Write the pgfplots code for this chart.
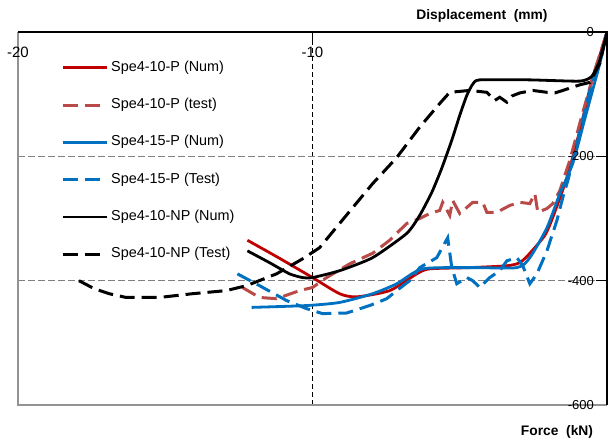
\documentclass[border=0pt]{standalone}
\usepackage{pgfplots}
\pgfplotsset{compat=1.18}
\usepackage{fontspec}
\setmainfont{Liberation Sans}
\definecolor{cRed}{RGB}{192,0,0}
\definecolor{cRedD}{RGB}{184,74,72}
\definecolor{cBlue}{RGB}{0,112,192}
\begin{document}
\begin{tikzpicture}[x=1pt,y=1pt]
\useasboundingbox (0,0) rectangle (608,440);
\begin{axis}[
  at={(18pt,35pt)}, anchor=south west,
  scale only axis, width=589pt, height=373pt,
  xmin=-20, xmax=0, ymin=-600, ymax=0,
  axis line style={draw=none},
  clip mode=individual,
  xtick={-10}, xticklabels={},
  extra x ticks={-20}, extra x tick labels={},
  extra x tick style={grid=none},
  ytick={-400,-200}, yticklabels={},
  extra y ticks={-600,0}, extra y tick labels={},
  extra y tick style={grid=none},
  xtick pos=right, ytick pos=right,
  tick align=inside, major tick length=11pt,
  tick style={black, line width=0.8pt},
  xmajorgrids, ymajorgrids,
  major x grid style={black, line width=0.7pt, dash pattern=on 5pt off 3pt},
  major y grid style={gray, line width=1pt, dash pattern=on 7pt off 3pt},
  legend cell align=left,
  legend image code/.code={\draw[#1] (0pt,0pt) -- (44pt,0pt);},
  legend style={at={(0,1)}, anchor=north west, xshift=43pt, yshift=-26.5pt,
    draw=none, fill=none, inner sep=0pt, row sep=19.3pt, column sep=1pt,
    font=\fontsize{14.4}{16}\selectfont,
    nodes={inner sep=2pt, text height=10.5pt, text depth=3.5pt, anchor=west}},
]
% Spe4-10-P (Num)
\addplot[cRed, line width=2.8pt, smooth, tension=0.4] coordinates {
(-12.21,-335) (-11.12,-364) (-10.0,-395) (-9.08,-421) (-8.5,-426) (-7.38,-416)
(-6.46,-389) (-6.02,-381) (-4.66,-379) (-3.40,-376) (-2.96,-371) (-2.62,-356)
(-2.11,-327) (-1.84,-298) (-1.36,-234) (-0.92,-158) (-0.51,-77) (-0.24,-37) (0,0)};
\addlegendentry{Spe4-10-P (Num)}
% Spe4-10-P (test)
\addplot[cRedD, line width=3pt, dash pattern=on 15pt off 7pt] coordinates {
(-12.38,-411) (-11.80,-427) (-11.22,-429) (-10.44,-416) (-10.0,-411) (-9.52,-395)
(-8.74,-373) (-7.96,-356) (-7.38,-335) (-6.80,-308) (-6.36,-300) (-6.02,-292)
(-5.68,-287) (-5.58,-274) (-5.34,-295) (-5.24,-271) (-5.0,-292) (-4.56,-274)
(-4.22,-274) (-4.08,-290) (-3.74,-290) (-3.30,-279) (-2.96,-274) (-2.62,-276)
(-2.45,-260) (-2.35,-290) (-2.04,-284) (-1.84,-276) (-1.60,-255) (-1.26,-206)
(-0.85,-134) (-0.41,-61) (0,0)};
\addlegendentry{Spe4-10-P (test)}
% Spe4-15-P (Num)
\addplot[cBlue, line width=2.8pt, smooth, tension=0.4] coordinates {
(-12.07,-443) (-10.2,-440) (-9.08,-435) (-7.96,-421) (-7.14,-405) (-6.26,-381)
(-4.56,-379) (-3.06,-379) (-2.62,-363) (-2.04,-315) (-1.60,-260) (-1.16,-211)
(-0.75,-139) (-0.24,-50) (0,0)};
\addlegendentry{Spe4-15-P (Num)}
% Spe4-15-P (Test)
\addplot[cBlue, line width=3pt, dash pattern=on 15pt off 7pt] coordinates {
(-12.55,-389) (-11.80,-408) (-10.88,-432) (-10.20,-445) (-9.66,-453) (-8.84,-452)
(-8.06,-440) (-7.48,-429) (-7.14,-416) (-6.70,-400) (-6.36,-379) (-5.78,-363)
(-5.41,-331) (-5.27,-379) (-5.10,-405) (-4.76,-395) (-4.56,-400) (-4.32,-411)
(-3.98,-395) (-3.64,-384) (-3.40,-368) (-3.06,-363) (-2.86,-376) (-2.62,-405)
(-2.38,-389) (-2.04,-352) (-1.70,-303) (-1.50,-266) (-1.33,-239) (-0.99,-174)
(-0.58,-94) (-0.24,-45) (0,0)};
\addlegendentry{Spe4-15-P (Test)}
% Spe4-10-NP (Num)
\addplot[black, line width=2.8pt, smooth, tension=0.35] coordinates {
(-12.21,-352) (-11.46,-371) (-10.78,-389) (-10.34,-395) (-10.0,-395) (-9.08,-384)
(-7.96,-363) (-6.80,-324) (-6.36,-295) (-5.95,-258) (-5.61,-219) (-5.27,-174)
(-5.0,-134) (-4.76,-102) (-4.56,-84) (-4.32,-77) (-2.62,-77) (-0.92,-79)
(-0.51,-71) (-0.24,-45) (0,0)};
\addlegendentry{Spe4-10-NP (Num)}
% Spe4-10-NP (Test)
\addplot[black, line width=3pt, dash pattern=on 15pt off 7pt] coordinates {
(-17.93,-400) (-17.41,-413) (-16.90,-421) (-16.33,-427) (-15.20,-427) (-14.08,-421)
(-12.93,-416) (-12.24,-408) (-11.22,-389) (-10.34,-365) (-9.76,-347) (-9.08,-308)
(-7.96,-244) (-7.14,-202) (-6.36,-153) (-5.68,-115) (-5.34,-97) (-4.66,-94)
(-4.08,-97) (-3.81,-110) (-3.64,-105) (-3.40,-113) (-3.23,-103) (-2.96,-98)
(-2.52,-94) (-2.04,-97) (-1.77,-98) (-1.50,-94) (-1.19,-89) (-0.92,-85)
(-0.58,-81) (-0.24,-50) (0,0)};
\addlegendentry{Spe4-10-NP (Test)}
\draw[gray!85, line width=1.2pt] (rel axis cs:0,1) -- (rel axis cs:0,0) -- (rel axis cs:1,0);
\draw[black, line width=1.3pt] (rel axis cs:0,1) -- (rel axis cs:1,1) -- (rel axis cs:1,0);
% tick labels
\begin{scope}[every node/.style={inner sep=0pt, font=\fontsize{15}{17}\selectfont}]
\node[anchor=base, yshift=-25pt] at (axis cs:-20,0) {-20};
\node[anchor=base, yshift=-25pt] at (axis cs:-10,0) {-10};
\end{scope}
\begin{scope}[every node/.style={inner sep=0pt, anchor=east, xshift=-13pt, font=\fontsize{13}{15}\selectfont}]
\node at (axis cs:0,0) {0};
\node at (axis cs:0,-200) {-200};
\node at (axis cs:0,-400) {-400};
\node at (axis cs:0,-600) {-600};
\end{scope}
\end{axis}
\node[font=\bfseries\fontsize{13.8}{15}\selectfont] at (482,424) {Displacement\ \ (mm)};
\node[font=\bfseries\fontsize{13.8}{15}\selectfont] at (557,8) {Force\ \ (kN)};
\end{tikzpicture}
\end{document}
